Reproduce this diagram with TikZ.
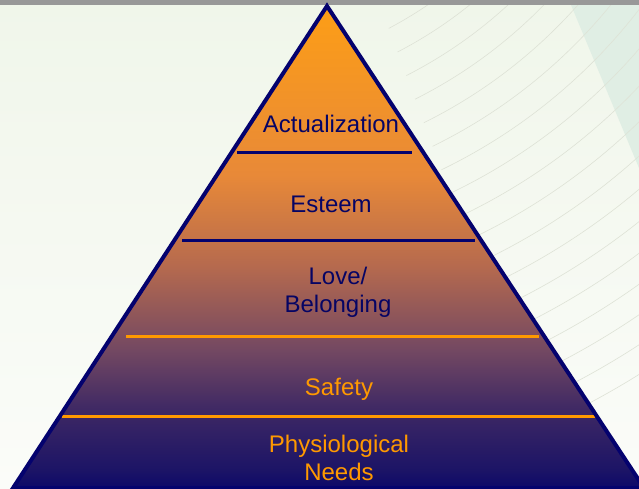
\documentclass[tikz,border=0pt]{standalone}
\usepackage{fontspec}
\setmainfont{Liberation Sans}
\definecolor{navyedge}{RGB}{4,2,110}
\definecolor{levelorange}{RGB}{255,153,0}
\definecolor{labelnavy}{RGB}{6,4,100}
\definecolor{bgtop}{RGB}{240,246,234}
\definecolor{bgbottom}{RGB}{251,252,249}
\definecolor{swirl}{RGB}{222,226,214}
\definecolor{tealband}{RGB}{224,238,228}
\definecolor{topbar}{RGB}{152,152,152}
% pyramid fill: orange at the apex, navy at the base
\pgfdeclareverticalshading{pyramidfill}{100bp}{%
  color(0bp)=(rgb,255:red,12;green,8;blue,105);
  color(25bp)=(rgb,255:red,12;green,8;blue,105);
  color(26.9bp)=(rgb,255:red,28;green,20;blue,102);
  color(33.1bp)=(rgb,255:red,62;green,40;blue,100);
  color(39.3bp)=(rgb,255:red,115;green,72;blue,98);
  color(48.1bp)=(rgb,255:red,182;green,106;blue,78);
  color(57.5bp)=(rgb,255:red,232;green,137;blue,56);
  color(75bp)=(rgb,255:red,253;green,158;blue,22);
  color(100bp)=(rgb,255:red,253;green,158;blue,22)}
\tikzset{
  divider/.style={line width=3pt},
  level/.style={font=\fontsize{24}{28}\selectfont, anchor=base, align=center, inner sep=0pt},
}
\begin{document}
\begin{tikzpicture}[x=1pt,y=-1pt]
\useasboundingbox (0,0) rectangle (639,488);
% backdrop
\shade[top color=bgtop, bottom color=bgbottom] (0,0) rectangle (639,488);
\fill[tealband] (571,5) -- (639,5) -- (639,168) -- cycle;
\begin{scope}
  \clip (380,5) -- (639,5) -- (639,488) -- (560,488) -- cycle;
  \foreach \r in {380,405,...,830}
    \draw[swirl, line width=0.6pt] (200,-330) ++(5:\r) arc[start angle=5, end angle=80, radius=\r];
\end{scope}
\fill[topbar] (0,0) rectangle (639,5);
% pyramid body
\coordinate (apex) at (327,6);
\coordinate (baseL) at (13,488);
\coordinate (baseR) at (644,488);
\shade[shading=pyramidfill] (apex) -- (baseR) -- (baseL) -- cycle;
% level dividers
\coordinate (d1a) at (237,152); \coordinate (d1b) at (412,152);
\coordinate (d2a) at (182,240); \coordinate (d2b) at (475,240);
\coordinate (d3a) at (126,336); \coordinate (d3b) at (539,336);
\coordinate (d4a) at (62,416);  \coordinate (d4b) at (598,416);
\draw[divider, navyedge] (d1a) -- (d1b);
\draw[divider, navyedge] (d2a) -- (d2b);
\draw[divider, levelorange] (d3a) -- (d3b);
\draw[divider, levelorange] (d4a) -- (d4b);
% outline
\draw[navyedge, line width=4pt, line join=miter] (apex) -- (baseR) -- (baseL) -- cycle;
% level labels (multi-line labels sit on the baseline of their last line)
\node[level, text=labelnavy] (actual) at (331,132) {Actualization};
\node[level, text=labelnavy] (esteem) at (331,212) {Esteem};
\node[level, text=labelnavy] (love) at (338,312) {Love/\\Belonging};
\node[level, text=levelorange] (safety) at (339,395) {Safety};
\node[level, text=levelorange] (physio) at (339,480) {Physiological\\Needs};
\end{tikzpicture}
\end{document}
